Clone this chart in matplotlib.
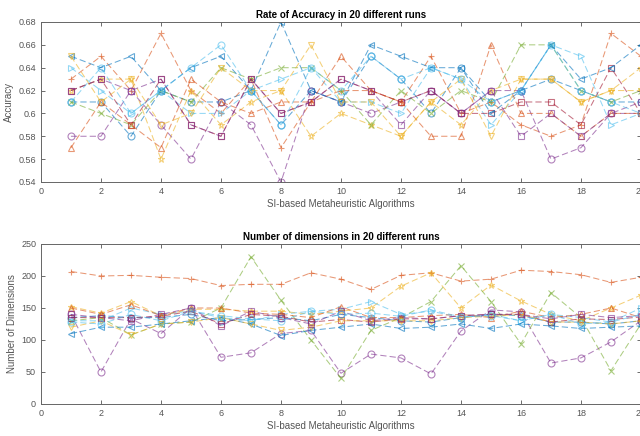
import numpy as np
import matplotlib
matplotlib.use("Agg")
import matplotlib.pyplot as plt
from matplotlib.ticker import FuncFormatter

plt.rcParams['font.family'] = ['Liberation Sans', 'DejaVu Sans']

runs = np.arange(1, 21)

# MATLAB default colour order + markers used per series
colors = ['#0072BD', '#D95319', '#EDB120', '#7E2F8E', '#77AC30', '#4DBEEE', '#A2142F',
          '#0072BD', '#D95319', '#EDB120', '#7E2F8E', '#4DBEEE']
markers = ['o', '+', '*', 'o', 'x', '>', 's', '<', '^', 'v', 's', 'o']

# accuracy per run, one list per algorithm
acc_blue_o   = [0.61, 0.61, 0.58, 0.62, 0.61, 0.61, 0.62, 0.59, 0.62, 0.61, 0.65, 0.63, 0.60, 0.64, 0.61, 0.62, 0.63, 0.62, 0.61, 0.61]
acc_orange_p = [0.63, 0.65, 0.62, 0.67, 0.62, 0.60, 0.63, 0.57, 0.61, 0.62, 0.62, 0.61, 0.65, 0.60, 0.61, 0.59, 0.58, 0.59, 0.67, 0.65]
acc_yellow_s = [0.62, 0.63, 0.63, 0.56, 0.62, 0.59, 0.61, 0.62, 0.58, 0.60, 0.59, 0.58, 0.61, 0.59, 0.62, 0.63, 0.63, 0.61, 0.62, 0.64]
acc_purple_o = [0.58, 0.58, 0.62, 0.59, 0.56, 0.61, 0.59, 0.54, 0.62, 0.61, 0.60, 0.61, 0.62, 0.60, 0.62, 0.62, 0.56, 0.57, 0.60, 0.60]
acc_green_x  = [0.61, 0.60, 0.59, 0.62, 0.61, 0.64, 0.63, 0.64, 0.64, 0.62, 0.59, 0.62, 0.60, 0.62, 0.61, 0.66, 0.66, 0.62, 0.61, 0.62]
acc_cyan_r   = [0.64, 0.62, 0.60, 0.62, 0.60, 0.60, 0.62, 0.63, 0.64, 0.61, 0.61, 0.60, 0.64, 0.63, 0.59, 0.62, 0.66, 0.65, 0.59, 0.60]
acc_red_sq   = [0.62, 0.63, 0.59, 0.63, 0.59, 0.58, 0.63, 0.60, 0.61, 0.63, 0.62, 0.61, 0.62, 0.60, 0.60, 0.61, 0.61, 0.59, 0.64, 0.60]
acc_blue_l   = [0.65, 0.64, 0.65, 0.62, 0.64, 0.65, 0.62, 0.68, 0.62, 0.61, 0.66, 0.65, 0.64, 0.64, 0.60, 0.62, 0.66, 0.63, 0.64, 0.66]
acc_orange_t = [0.57, 0.61, 0.59, 0.57, 0.63, 0.61, 0.60, 0.61, 0.61, 0.65, 0.62, 0.61, 0.58, 0.58, 0.66, 0.60, 0.60, 0.58, 0.60, 0.60]
acc_yellow_v = [0.65, 0.61, 0.63, 0.59, 0.60, 0.64, 0.62, 0.62, 0.66, 0.61, 0.61, 0.58, 0.61, 0.63, 0.58, 0.63, 0.63, 0.61, 0.62, 0.62]
acc_purple_s = [0.62, 0.63, 0.62, 0.63, 0.59, 0.58, 0.63, 0.60, 0.61, 0.63, 0.62, 0.59, 0.62, 0.60, 0.62, 0.58, 0.60, 0.58, 0.60, 0.61]
acc_cyan_o   = [0.61, 0.64, 0.60, 0.62, 0.64, 0.66, 0.62, 0.59, 0.64, 0.62, 0.65, 0.63, 0.64, 0.63, 0.61, 0.62, 0.66, 0.62, 0.61, 0.60]

# number of selected dimensions per run
dim_blue_o   = [135, 138, 135, 135, 140, 130, 132, 135, 130, 140, 135, 130, 128, 135, 140, 138, 128, 128, 125, 130]
dim_orange_p = [207, 200, 201, 198, 196, 185, 187, 187, 205, 195, 179, 201, 205, 192, 195, 209, 207, 202, 190, 198]
dim_yellow_s = [152, 142, 160, 138, 148, 148, 145, 145, 140, 145, 150, 184, 205, 150, 186, 161, 140, 130, 150, 170]
dim_purple_o = [140, 50, 133, 110, 150, 73, 80, 110, 115, 48, 78, 72, 47, 114, 147, 144, 64, 72, 97, 130]
dim_green_x  = [130, 135, 108, 125, 128, 150, 230, 162, 100, 40, 115, 135, 160, 216, 160, 94, 174, 135, 52, 125]
dim_cyan_r   = [130, 130, 150, 140, 145, 135, 130, 140, 145, 148, 160, 140, 145, 135, 140, 130, 140, 135, 128, 150]
dim_red_sq   = [135, 135, 135, 137, 145, 125, 140, 137, 128, 132, 128, 133, 133, 138, 140, 140, 128, 133, 132, 136]
dim_blue_l   = [110, 120, 120, 125, 130, 135, 125, 107, 115, 120, 125, 118, 120, 125, 118, 125, 122, 118, 120, 122]
dim_orange_t = [150, 140, 155, 138, 150, 150, 142, 140, 135, 152, 135, 135, 138, 140, 135, 145, 135, 140, 150, 135]
dim_yellow_v = [120, 130, 108, 125, 128, 135, 125, 115, 120, 130, 130, 130, 130, 135, 137, 140, 128, 128, 125, 130]
dim_purple_s = [140, 135, 130, 140, 150, 122, 145, 135, 125, 145, 130, 135, 133, 138, 140, 140, 133, 140, 135, 138]
dim_cyan_o   = [128, 125, 140, 130, 145, 138, 133, 130, 145, 140, 142, 137, 147, 136, 138, 130, 140, 125, 128, 140]

acc = [acc_blue_o, acc_orange_p, acc_yellow_s, acc_purple_o, acc_green_x, acc_cyan_r,
       acc_red_sq, acc_blue_l, acc_orange_t, acc_yellow_v, acc_purple_s, acc_cyan_o]
dims = [dim_blue_o, dim_orange_p, dim_yellow_s, dim_purple_o, dim_green_x, dim_cyan_r,
        dim_red_sq, dim_blue_l, dim_orange_t, dim_yellow_v, dim_purple_s, dim_cyan_o]

fig = plt.figure(figsize=(6.4, 4.36), dpi=100)
ax1 = fig.add_axes([0.064, 0.5826, 0.9375, 0.367])
ax2 = fig.add_axes([0.064, 0.0734, 0.9375, 0.367])

gray = '#555555'

def style(ax, title, ylabel):
    ax.set_xlim(0, 20)
    ax.set_xticks(np.arange(0, 21, 2))
    ax.tick_params(direction='in', top=True, right=True, labelsize=6.5,
                   colors=gray, length=3, width=0.6)
    for s in ax.spines.values():
        s.set_color('#666666')
        s.set_linewidth(0.7)
    ax.set_title(title, fontsize=7, fontweight='bold', pad=3)
    ax.set_xlabel('SI-based Metaheuristic Algorithms', fontsize=7, color=gray, labelpad=2)
    ax.set_ylabel(ylabel, fontsize=7, color=gray, labelpad=3)

dash = (0, (6, 3))

for i in range(len(acc)):
    ax1.plot(runs, acc[i], linestyle=dash, marker=markers[i], color=colors[i],
             mfc='none', markersize=5, linewidth=0.75, markeredgewidth=0.8, alpha=0.6)
style(ax1, 'Rate of Accuracy in 20 different runs', 'Accuracy')
ax1.set_ylim(0.54, 0.68)
ax1.set_yticks(np.arange(0.54, 0.681, 0.02))
ax1.yaxis.set_major_formatter(FuncFormatter(lambda v, p: '%g' % round(v, 2)))

for i in range(len(dims)):
    ax2.plot(runs, dims[i], linestyle=dash, marker=markers[i], color=colors[i],
             mfc='none', markersize=5, linewidth=0.75, markeredgewidth=0.8, alpha=0.6)
style(ax2, 'Number of dimensions in 20 different runs', 'Number of Dimensions')
ax2.set_ylim(0, 250)
ax2.set_yticks(np.arange(0, 251, 50))

fig.savefig('out.png', dpi=100)
